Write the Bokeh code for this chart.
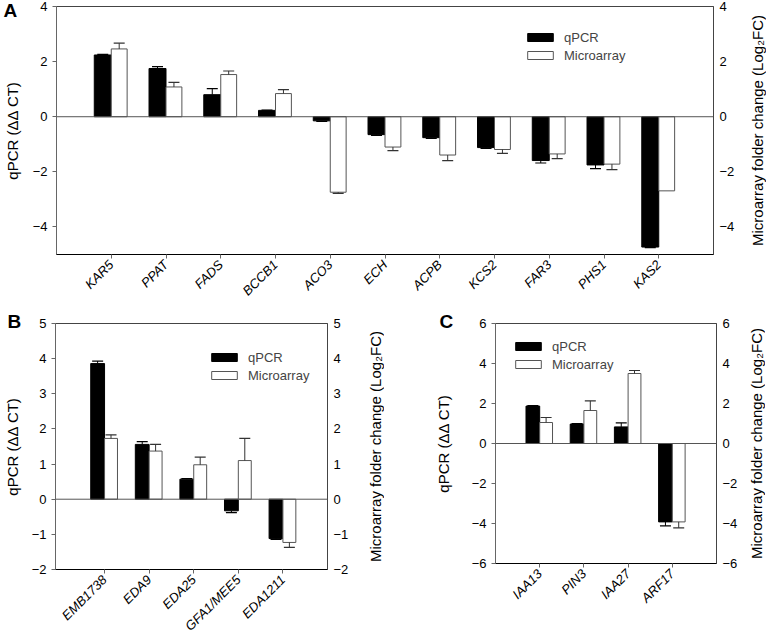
import math
from bokeh.plotting import figure
from bokeh.models import (LinearAxis, Range1d, FixedTicker, Span, Legend, LegendItem)
from bokeh.layouts import column, row
from bokeh.embed import file_html
from bokeh.resources import INLINE

FONT = "Liberation Sans"

# ---------------- data ----------------
genes_a = ["KAR5", "PPAT", "FADS", "BCCB1", "ACO3", "ECH", "ACPB", "KCS2", "FAR3", "PHS1", "KAS2"]
qpcr_a = [2.24, 1.75, 0.80, 0.23, -0.15, -0.65, -0.76, -1.12, -1.59, -1.75, -4.73]
qpcr_a_err = [0.02, 0.07, 0.22, 0.01, 0.02, 0.03, 0.03, 0.03, 0.09, 0.13, 0.02]
micro_a = [2.46, 1.08, 1.53, 0.84, -2.74, -1.10, -1.39, -1.19, -1.35, -1.72, -2.69]
micro_a_err = [0.21, 0.17, 0.13, 0.14, 0.04, 0.13, 0.20, 0.14, 0.17, 0.20, 0.0]
yticks_a = [-4, -2, 0, 2, 4]

genes_b = ["EMB1738", "EDA9", "EDA25", "GFA1/MEE5", "EDA1211"]
qpcr_b = [3.86, 1.56, 0.57, -0.33, -1.12]
qpcr_b_err = [0.07, 0.08, 0.02, 0.05, 0.02]
micro_b = [1.73, 1.37, 0.98, 1.10, -1.23]
micro_b_err = [0.10, 0.19, 0.22, 0.63, 0.14]
yticks_b = [-2, -1, 0, 1, 2, 3, 4, 5]

genes_c = ["IAA13", "PIN3", "IAA27", "ARF17"]
qpcr_c = [1.87, 0.97, 0.83, -3.92]
qpcr_c_err = [0.02, 0.02, 0.20, 0.20]
micro_c = [1.05, 1.65, 3.50, -3.92]
micro_c_err = [0.25, 0.48, 0.15, 0.30]
yticks_c = [-6, -4, -2, 0, 2, 4, 6]

LEFT_LABEL = "qPCR (\u0394\u0394 CT)"
RIGHT_LABEL = "Microarray folder change (Log\u2082FC)"


def style_label(ax, standoff):
    ax.axis_label_text_font = FONT
    ax.axis_label_text_font_size = "15px"
    ax.axis_label_text_font_style = "normal"
    ax.axis_label_text_color = "black"
    ax.axis_label_standoff = standoff


def panel(genes, q, qe, m, me, yr, yticks, xr, fw, fh, bl, br, bt, bb,
          leg_x, leg_top, letter, letter_off, letter_standoff, lab_l):
    p = figure(output_backend="svg", toolbar_location=None,
               frame_width=fw, frame_height=fh,
               min_border_left=bl, min_border_right=br,
               min_border_top=bt, min_border_bottom=bb,
               x_range=Range1d(*xr), y_range=Range1d(*yr))
    p.grid.visible = False
    p.outline_line_color = "#444444"
    p.outline_line_width = 1
    p.background_fill_color = "white"
    p.border_fill_color = "white"

    # panel letter as the title, pulled down beside the frame's top-left corner
    p.title.text = letter
    p.title.align = "left"
    p.title.offset = letter_off
    p.title.standoff = letter_standoff
    p.title.text_font = FONT
    p.title.text_font_style = "bold"
    p.title.text_font_size = "19px"
    p.title.text_color = "black"

    pxu_x = fw / (xr[1] - xr[0])

    idx = list(range(1, len(genes) + 1))
    xq = [i - 0.155 for i in idx]
    xm = [i + 0.145 for i in idx]

    rq = p.vbar(x=xq, width=0.31, top=q, bottom=0, fill_color="black",
                line_color="black", line_width=1)
    rm = p.vbar(x=xm, width=0.29, top=m, bottom=0, fill_color="white",
                line_color="#555555", line_width=1)

    cap = 5.5 / pxu_x
    for xs, vals, errs, col in ((xq, q, qe, "black"), (xm, m, me, "#333333")):
        x0, y0, y1, cx0, cx1 = [], [], [], [], []
        for xx, v, e in zip(xs, vals, errs):
            if e <= 0:
                continue
            end = v + (e if v >= 0 else -e)
            x0.append(xx); y0.append(v); y1.append(end)
            cx0.append(xx - cap); cx1.append(xx + cap)
        p.segment(x0=x0, y0=y0, x1=x0, y1=y1, line_color=col, line_width=1)
        p.segment(x0=cx0, y0=y1, x1=cx1, y1=y1, line_color=col, line_width=1.2)

    p.add_layout(Span(location=0, dimension="width", line_color="#555555", line_width=1))

    # left axis
    ax = p.yaxis[0]
    ax.ticker = FixedTicker(ticks=yticks)
    ax.major_tick_out = 4
    ax.major_tick_in = 0
    ax.minor_tick_line_color = None
    ax.axis_line_color = "#666666"
    ax.major_tick_line_color = "#666666"
    ax.major_label_text_font = FONT
    ax.major_label_text_font_size = "13px"
    ax.major_label_text_color = "black"
    ax.major_label_standoff = 5
    ax.axis_label = LEFT_LABEL
    style_label(ax, lab_l)

    # right axis (tick labels only; its title sits in a slim neighbour figure)
    p.extra_y_ranges = {"r": Range1d(*yr)}
    rax = LinearAxis(y_range_name="r", ticker=FixedTicker(ticks=yticks))
    rax.major_tick_out = 0
    rax.major_tick_in = 0
    rax.minor_tick_line_color = None
    rax.axis_line_color = "#444444"
    rax.major_label_text_font = FONT
    rax.major_label_text_font_size = "13px"
    rax.major_label_text_color = "black"
    rax.major_label_standoff = 6
    p.add_layout(rax, "right")

    # bottom axis
    xa = p.xaxis[0]
    xa.ticker = FixedTicker(ticks=idx)
    xa.major_label_overrides = {i: g for i, g in zip(idx, genes)}
    xa.major_label_orientation = math.pi / 4
    xa.major_label_text_font = FONT
    xa.major_label_text_font_style = "italic"
    xa.major_label_text_font_size = "13px"
    xa.major_label_text_color = "black"
    xa.major_tick_out = 4
    xa.major_tick_in = 0
    xa.minor_tick_line_color = None
    xa.axis_line_color = "black"
    xa.major_tick_line_color = "#666666"
    xa.major_label_standoff = 4

    leg_h = 33
    leg = Legend(items=[LegendItem(label="qPCR", renderers=[rq]),
                        LegendItem(label="Microarray", renderers=[rm])],
                 location=(leg_x, fh - (leg_top - 2.5) - leg_h))
    leg.glyph_width = 32
    leg.glyph_height = 10
    leg.label_height = 10
    leg.label_width = 10
    leg.spacing = 3
    leg.padding = 0
    leg.margin = 0
    leg.label_standoff = 8
    leg.border_line_color = None
    leg.background_fill_alpha = 0
    leg.label_text_font = FONT
    leg.label_text_font_size = "13px"
    leg.label_text_baseline = "middle"
    p.add_layout(leg)
    return p


def side_title(fh, bl, bt, bb):
    """Slim figure whose left-axis title reads bottom-to-top, as the right-hand axis title."""
    s = figure(output_backend="svg", toolbar_location=None,
               frame_width=1, frame_height=fh,
               min_border_left=bl, min_border_right=0,
               min_border_top=bt, min_border_bottom=bb,
               x_range=Range1d(0, 1), y_range=Range1d(0, 1),
               x_axis_location=None)
    s.grid.visible = False
    s.outline_line_color = None
    s.background_fill_color = "white"
    s.border_fill_color = "white"
    a = s.yaxis[0]
    a.ticker = FixedTicker(ticks=[])
    a.axis_line_color = None
    a.major_tick_line_color = None
    a.minor_tick_line_color = None
    a.major_tick_out = 0
    a.major_label_standoff = 0
    a.axis_label = RIGHT_LABEL
    style_label(a, 0)
    return s


pa = panel(genes_a, qpcr_a, qpcr_a_err, micro_a, micro_a_err, (-5, 4), yticks_a, (0, 12),
           657, 248, 55, 29, 6, 58, 468, 26, "A", -53, -29, 9)
ra = side_title(248, 23, 6, 58)

pb = panel(genes_b, qpcr_b, qpcr_b_err, micro_b, micro_b_err, (-2, 5), yticks_b, (-0.1, 6),
           272, 246, 51, 26, 10, 66, 153, 29, "B", -48, -16, 8)
rb = side_title(246, 30, 10, 66)

pc = panel(genes_c, qpcr_c, qpcr_c_err, micro_c, micro_c_err, (-6, 6), yticks_c, (0, 5),
           221, 240, 111, 25, 11, 71, 17, 18, "C", -56, -17, 17)
rc = side_title(240, 23, 11, 71)

layout = column(row(pa, ra, spacing=0), row(pb, rb, pc, rc, spacing=0), spacing=0)
open("out.html", "w").write(file_html(layout, INLINE))
